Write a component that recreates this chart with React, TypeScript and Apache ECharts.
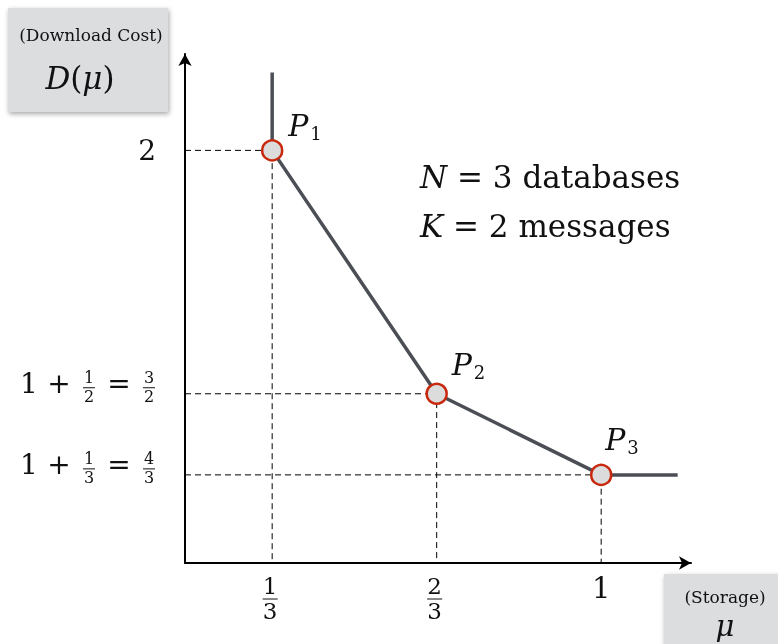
import React, { useEffect, useRef } from "react";
import * as echarts from "echarts";

// ---- data ----
const muValues = [1 / 3, 2 / 3, 1]; // storage of the corner points
const costValues = [2, 3 / 2, 4 / 3]; // download cost of the corner points
const pointIndices = ["1", "2", "3"];
const curveTopCost = 2.16; // the drawn vertical branch above P1 ends here
const curveEndMu = 1.155; // the drawn flat branch right of P3 ends here
const xTickLabels = ["1/3", "2/3", "1"];
const yTickLabels = ["2", "1 + 1/2 = 3/2", "1 + 1/3 = 4/3"];
const noteLines = [
  ["N", " = 3 databases"],
  ["K", " = 2 messages"],
];

// ---- axis extents (layout) ----
const X_MIN = 0.1567;
const X_MAX = 1.182;
const Y_MIN = 1.1523;
const Y_MAX = 2.198;

const SERIF = '"DejaVu Serif", "Liberation Serif", serif';
const INK = "#111";

function txt(x: number, y: number, text: string, size: number, opts: any = {}) {
  const align = opts.align || "center";
  return {
    type: "text",
    x,
    y,
    z: 10,
    style: {
      text,
      fontSize: size,
      fontFamily: SERIF,
      fontStyle: opts.italic ? "italic" : "normal",
      fill: INK,
      align,
      textAlign: align,
      verticalAlign: "middle",
      textVerticalAlign: "middle",
      rich: opts.rich,
    },
  };
}

function frac(cx: number, barY: number, label: string, size: number, up: number, down: number, barW: number) {
  const [num, den] = label.split("/");
  return [
    txt(cx, barY - up, num, size),
    {
      type: "line",
      z: 10,
      shape: { x1: cx - barW / 2, y1: barY, x2: cx + barW / 2, y2: barY },
      style: { stroke: INK, lineWidth: 1 },
    },
    txt(cx, barY + down, den, size),
  ];
}

function italicRich(size: number) {
  return {
    i: { fontSize: size, fontFamily: SERIF, fontStyle: "italic", fill: INK },
    n: { fontSize: size, fontFamily: SERIF, fill: INK },
  };
}

export default function App() {
  const ref = useRef<HTMLDivElement>(null);

  useEffect(() => {
    if (!ref.current) return;
    const chart = echarts.init(ref.current, null, { renderer: "svg" });

    const points = muValues.map((m, i) => [m, costValues[i]]);
    const curve = [[muValues[0], curveTopCost], ...points, [curveEndMu, costValues[costValues.length - 1]]];

    const guideSeries = points.map((p, i) => ({
      type: "line",
      name: "guide" + i,
      data: [
        [X_MIN, p[1]],
        [p[0], p[1]],
        [p[0], Y_MIN],
      ],
      symbol: "none",
      silent: true,
      z: 1,
      lineStyle: { color: "#000", width: 1, type: [6, 4] },
    }));

    const axisLine = {
      show: true,
      onZero: false,
      symbol: ["none", "arrow"],
      symbolSize: [10, 12],
      lineStyle: { color: "#000", width: 2 },
    };

    chart.setOption({
      animation: false,
      grid: { left: 185, top: 54, right: 87, bottom: 81, containLabel: false, outerBoundsMode: "none" },
      xAxis: {
        type: "value",
        min: X_MIN,
        max: X_MAX,
        axisLine,
        axisTick: { show: false },
        axisLabel: { show: false },
        splitLine: { show: false },
      },
      yAxis: {
        type: "value",
        min: Y_MIN,
        max: Y_MAX,
        axisLine,
        axisTick: { show: false },
        axisLabel: { show: false },
        splitLine: { show: false },
      },
      series: [
        ...guideSeries,
        {
          type: "line",
          name: "curve",
          data: curve,
          symbol: "none",
          z: 2,
          lineStyle: { color: "#4b4f55", width: 3.5 },
        },
        {
          type: "scatter",
          name: "corner points",
          data: points,
          symbol: "circle",
          symbolSize: 20,
          z: 3,
          itemStyle: { color: "#dcdcdc", borderColor: "#c8290e", borderWidth: 2.5, opacity: 1 },
        },
      ],
    });

    // ---- annotations placed through the axes' scales ----
    const graphic: any[] = [];
    const axisX = chart.convertToPixel({ xAxisIndex: 0 }, X_MIN) as number;
    const axisY = chart.convertToPixel({ yAxisIndex: 0 }, Y_MIN) as number;

    // y tick labels
    yTickLabels.forEach((label, i) => {
      const L = chart.convertToPixel({ yAxisIndex: 0 }, costValues[i]) as number;
      const toks = label.split(" ");
      const R = axisX - 29;
      if (toks.length === 1) {
        graphic.push(txt(R, L, label, 28, { align: "right" }));
        return;
      }
      let cur = R;
      for (let k = toks.length - 1; k >= 0; k--) {
        const t = toks[k];
        const w = t.includes("/") ? 14 : t === "+" || t === "=" ? 46 : 14;
        const c = cur - w / 2;
        if (t.includes("/")) graphic.push(...frac(c, L - 6, t, 16, 10, 9, 12));
        else graphic.push(txt(c, L - 10, t, 28));
        cur -= w;
      }
    });

    // x tick labels
    xTickLabels.forEach((label, i) => {
      const X = chart.convertToPixel({ xAxisIndex: 0 }, muValues[i]) as number;
      if (label.includes("/")) graphic.push(...frac(X - 2, axisY + 36, label, 23, 13, 12, 15));
      else graphic.push(txt(X, axisY + 25, label, 29));
    });

    // point labels P_i
    const pOffsets = [
      [16, -25],
      [15, -29],
      [4, -35],
    ];
    points.forEach((p, i) => {
      const [px, py] = chart.convertToPixel({ gridIndex: 0 }, p) as number[];
      const x = px + pOffsets[i][0];
      const y = py + pOffsets[i][1];
      graphic.push(txt(x, y, "P", 30, { align: "left", italic: true }));
      graphic.push(txt(x + 22, y + 8, pointIndices[i], 18, { align: "left" }));
    });

    // parameters note
    noteLines.forEach((ln, i) => {
      graphic.push(
        txt(420, 177 + i * 49, `{i|${ln[0]}}{n|${ln[1]}}`, 31, { align: "left", rich: italicRich(31) })
      );
    });

    // axis title boxes
    const boxStyle = {
      fill: "#dcdddf",
      shadowBlur: 5,
      shadowOffsetX: 1,
      shadowOffsetY: 2,
      shadowColor: "rgba(0,0,0,0.35)",
    };
    graphic.push({ type: "rect", z: 5, shape: { x: 8, y: 8, width: 160, height: 104 }, style: boxStyle });
    graphic.push(txt(91, 35, "(Download Cost)", 17));
    graphic.push(txt(80, 78, "{i|D}{n|(}{i|μ}{n|)}", 31, { rich: italicRich(31) }));
    graphic.push({ type: "rect", z: 5, shape: { x: 664, y: 574, width: 120, height: 80 }, style: boxStyle });
    graphic.push(txt(725, 597, "(Storage)", 17));
    graphic.push(txt(725, 626, "μ", 29, { italic: true }));

    chart.setOption({ graphic });

    return () => chart.dispose();
  }, []);

  return <div ref={ref} style={{ position: "fixed", left: 0, top: 0, width: 778, height: 644 }} />;
}
